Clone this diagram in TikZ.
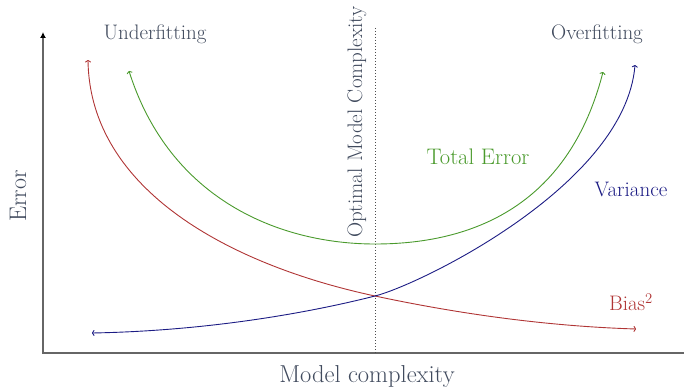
\documentclass[tikz,border=0pt]{standalone}
\usetikzlibrary{arrows.meta}
\definecolor{txtgray}{HTML}{414B5E}
\definecolor{biasred}{HTML}{B03535}
\definecolor{totgreen}{HTML}{4A9A2C}
\definecolor{varblue}{HTML}{1C1C84}
\tikzset{
  curve/.style={line width=0.9pt,{To[length=2.5pt,width=6pt]}-{To[length=2.5pt,width=6pt]}},
  lbl/.style={font=\fontsize{21}{24}\selectfont,inner sep=0pt},
}
\begin{document}
\begin{tikzpicture}[x=1pt,y=-1pt,>=latex]
\useasboundingbox (0,0) rectangle (684,387);
% axes
\coordinate (O) at (43,353);
\coordinate (ytop) at (43,32);
\coordinate (xend) at (684,353);
\draw[line width=1.5pt,black!60,-{Latex[black,length=6pt,width=6pt]}] (xend) -- (O) -- (ytop);
\node[txtgray,font=\fontsize{24.5}{28}\selectfont,inner sep=0pt] (xlbl) at (367,376) {Model complexity};
\node[txtgray,font=\fontsize{24}{28}\selectfont,inner sep=0pt,rotate=90] (ylbl) at (18,196) {Error};
% optimum
\coordinate (optTop) at (375,28);
\coordinate (optBot) at (375,353);
\draw[dotted,line width=1pt,black!70] (optTop) -- (optBot);
\node[lbl,txtgray,rotate=90] (optlbl) at (357,122) {Optimal Model Complexity};
\node[lbl,txtgray] (under) at (155,34) {Underfitting};
\node[lbl,txtgray] (over) at (597,34) {Overfitting};
% curves
\coordinate (cross) at (375,296);
\coordinate (biasL) at (88,60);
\coordinate (biasR) at (636,329);
\draw[curve,biasred] (biasL) .. controls (90,190) and (230,265) .. (cross) .. controls (450,312) and (540,326) .. (biasR);
\coordinate (varL) at (92,333);
\coordinate (varR) at (635,65);
\draw[curve,varblue] (varL) .. controls (200,331) and (300,315) .. (cross) .. controls (420,284.6) and (625,185) .. (varR);
\coordinate (totL) at (129,71);
\coordinate (totMin) at (375,244);
\coordinate (totR) at (603,72);
\draw[curve,totgreen] (totL) .. controls (170,200) and (280,244) .. (totMin) .. controls (480,244) and (570,200) .. (totR);
\node[lbl,totgreen,font=\fontsize{22.5}{26}\selectfont] (totlbl) at (478,157) {Total Error};
\node[lbl,varblue] (varlbl) at (631,189) {Variance};
\node[lbl,biasred] (biaslbl) at (631,302) {Bias\textsuperscript{2}};
\end{tikzpicture}
\end{document}
